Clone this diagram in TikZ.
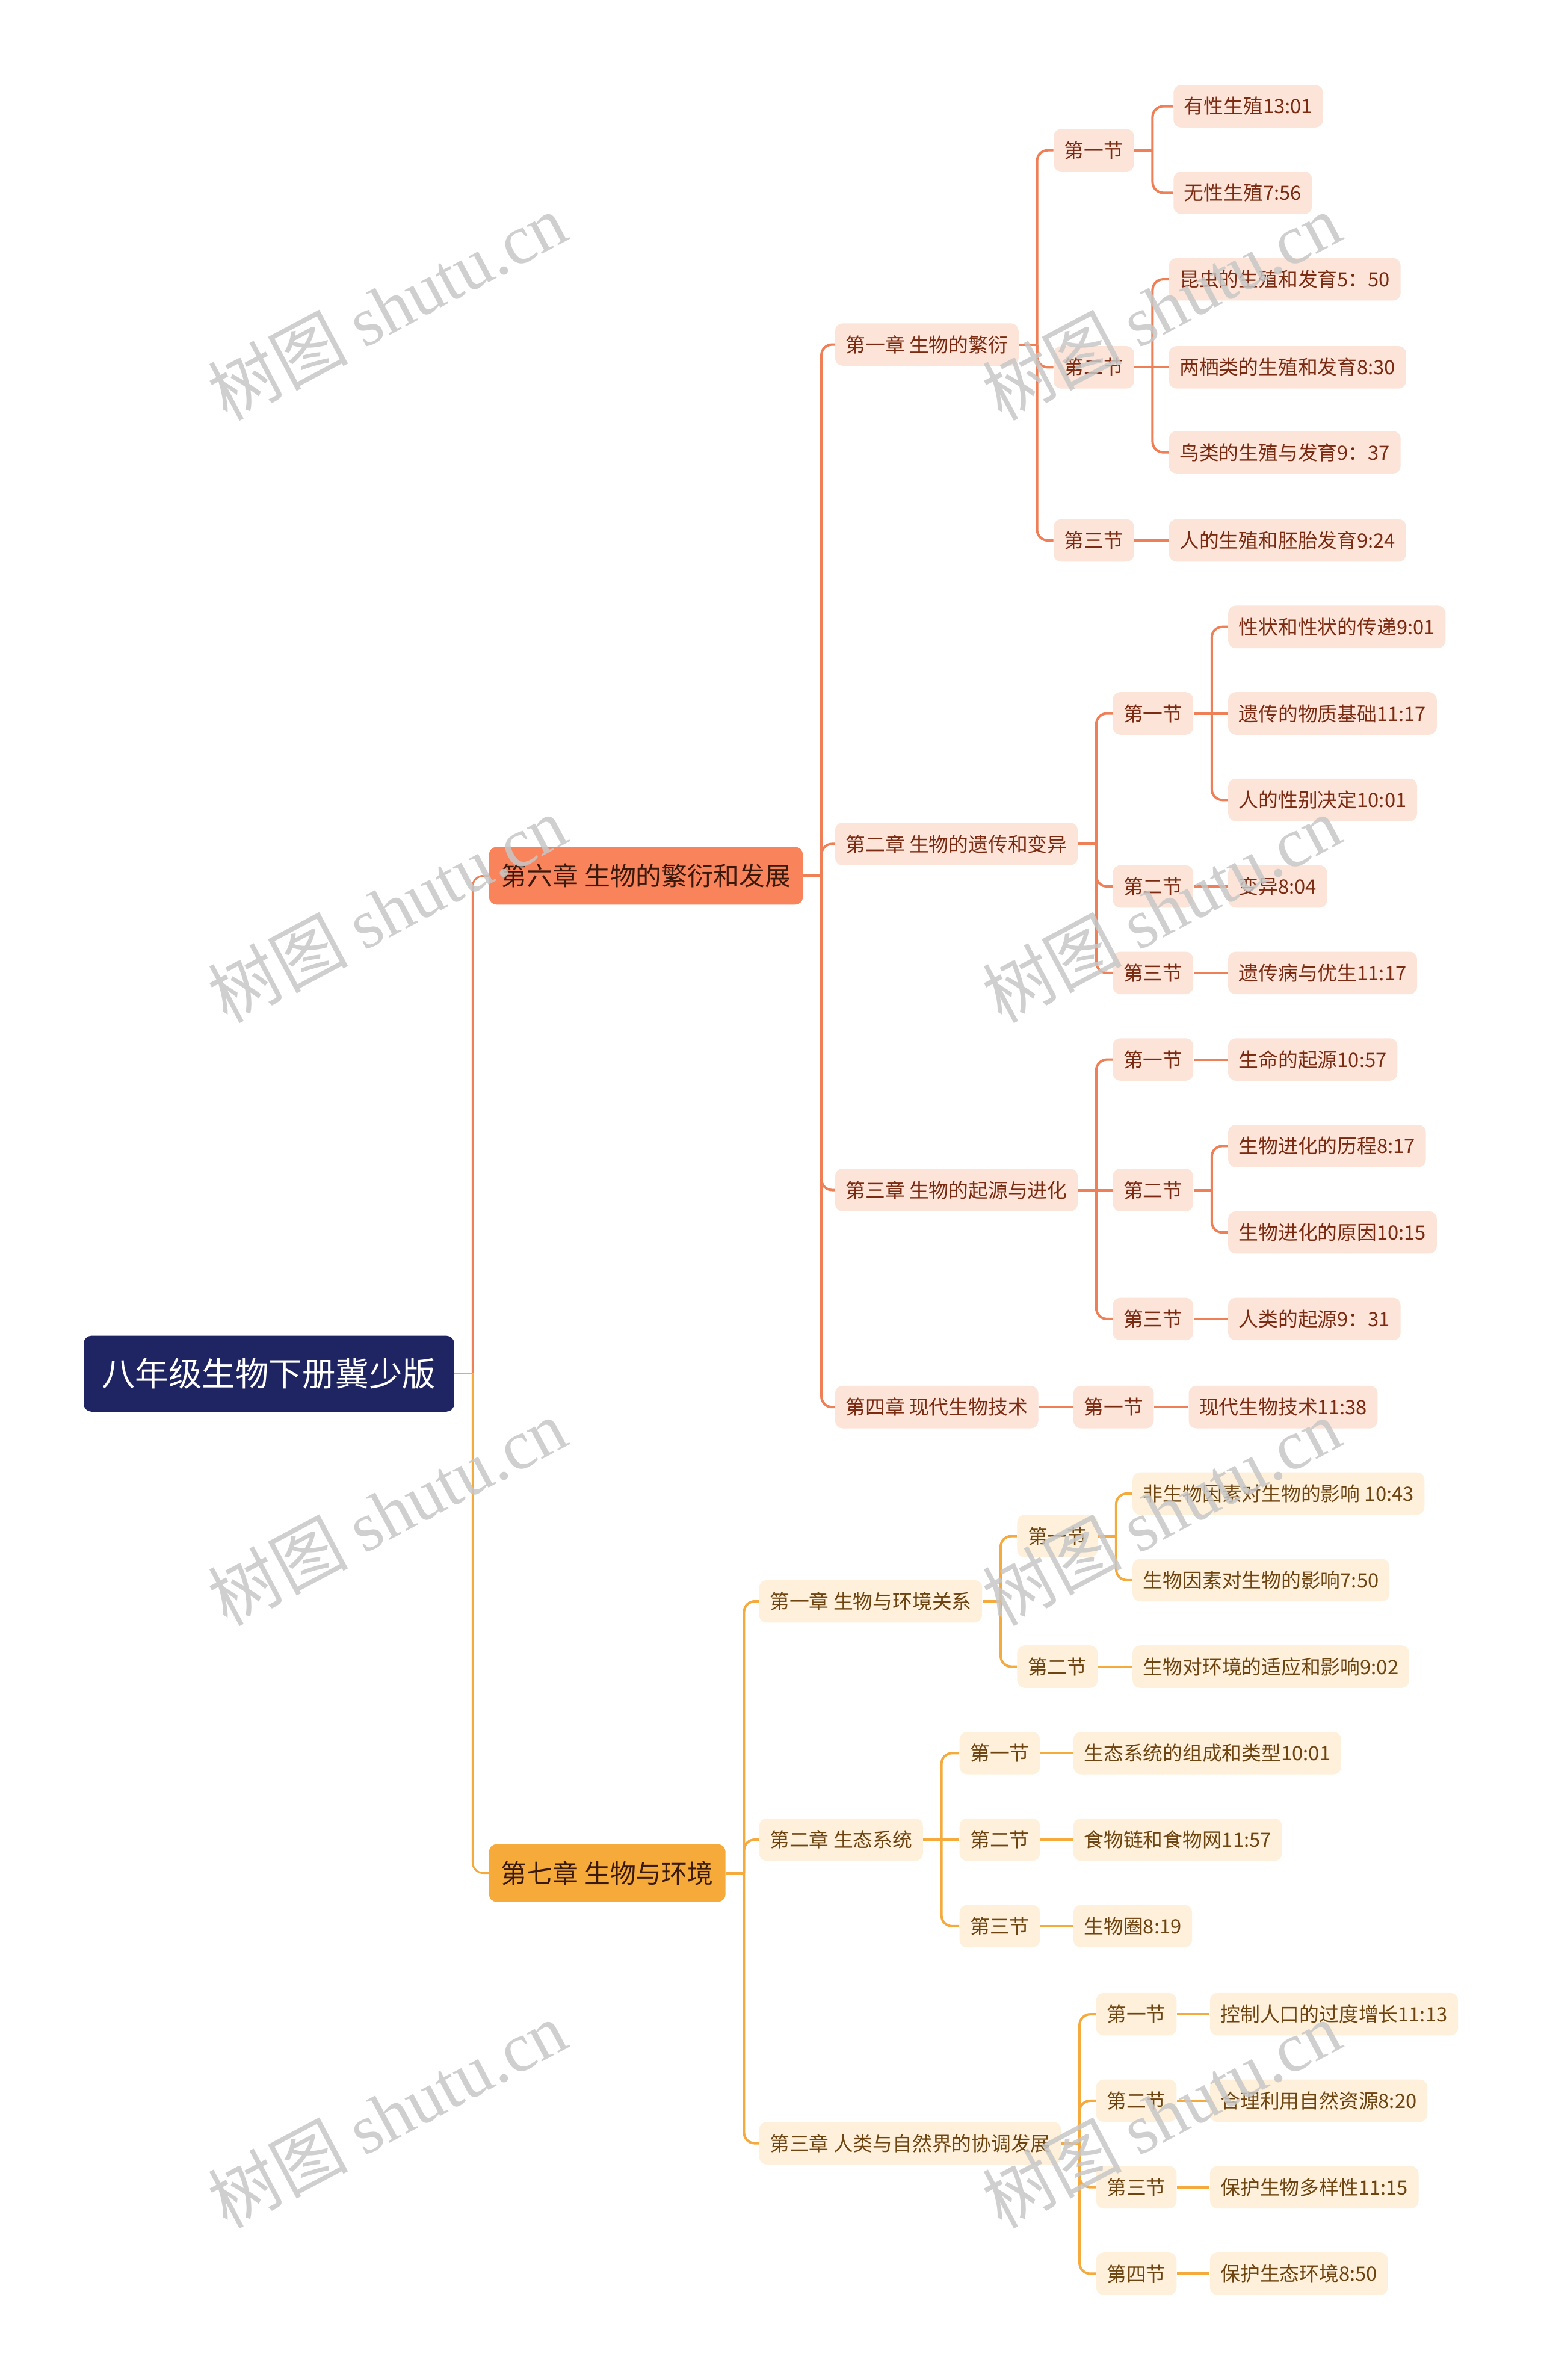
\documentclass[tikz,border=0pt]{standalone}
\usepackage{fontspec}
\setmainfont{Noto Sans CJK SC}
\newfontfamily\wmlat{Liberation Serif}
\definecolor{pline}{HTML}{EE7F56}
\definecolor{pfill}{HTML}{FDE4D9}
\definecolor{ptext}{HTML}{7B2B11}
\definecolor{pmain}{HTML}{F9835B}
\definecolor{yline}{HTML}{F4AA3D}
\definecolor{yfill}{HTML}{FEF0DA}
\definecolor{ytext}{HTML}{6E4410}
\definecolor{ymain}{HTML}{F6AA3A}
\definecolor{rootc}{HTML}{1F2462}
\definecolor{maintext}{HTML}{3A1A0C}
% stub from a parent to its trunk
\newcommand\mstub[2]{\draw[#1] (#2.east) -- ++(12,0) coordinate (#2-t);}
% bent branches from the trunk to children above or below the parent
\newcommand\mbend[3]{\foreach \c in {#3} {\draw[#1] (#2-t) |- (\c.west);}}
% straight branch to a child level with the parent
\newcommand\mflat[3]{\draw[#1] (#2-t) -- (#3.west);}
\begin{document}
\begin{tikzpicture}[x=1pt,y=-1pt,
  box/.style={anchor=west, rounded corners=5pt, inner xsep=7pt, inner ysep=0pt,
    minimum height=28pt, font=\fontsize{13}{15}\selectfont},
  pbox/.style={box, fill=pfill, text=ptext},
  ybox/.style={box, fill=yfill, text=ytext},
  mainbox/.style={anchor=west, rounded corners=5pt, inner xsep=8pt, inner ysep=0pt,
    minimum height=38pt, font=\fontsize{17}{20}\selectfont, text=maintext},
  rootbox/.style={anchor=west, rounded corners=5pt, inner xsep=12pt, inner ysep=0pt,
    minimum height=50pt, font=\fontsize{22}{26}\selectfont, text=white, fill=rootc},
  pln/.style={draw=pline, line width=1.6pt, rounded corners=7pt},
  yln/.style={draw=yline, line width=1.6pt, rounded corners=7pt},
  wm/.style={rotate=28, text=black!22, opacity=0.85, font=\fontsize{46}{50}\selectfont, inner sep=0pt}
]
\useasboundingbox (0,0) rectangle (1015,1568);
\fill[white] (0,0) rectangle (1015,1568);

% root and main
\node[rootbox] (root) at (55,905) {八年级生物下册冀少版};
\node[mainbox, fill=pmain] (m1) at (322,577) {第六章 生物的繁衍和发展};
\node[mainbox, fill=ymain] (m2) at (322,1234) {第七章 生物与环境};

% chapter level, pink
\node[pbox] (c1) at (550,227) {第一章 生物的繁衍};
\node[pbox] (c2) at (550,556) {第二章 生物的遗传和变异};
\node[pbox] (c3) at (550,784) {第三章 生物的起源与进化};
\node[pbox] (c4) at (550,927) {第四章 现代生物技术};

\node[pbox] (c1s1) at (694,99) {第一节};
\node[pbox] (c1s2) at (694,242) {第二节};
\node[pbox] (c1s3) at (694,356) {第三节};
\node[pbox] (c1s1a) at (773,70) {有性生殖13:01};
\node[pbox] (c1s1b) at (773,127) {无性生殖7:56};
\node[pbox] (c1s2a) at (770,184) {昆虫的生殖和发育5：50};
\node[pbox] (c1s2b) at (770,242) {两栖类的生殖和发育8:30};
\node[pbox] (c1s2c) at (770,298) {鸟类的生殖与发育9：37};
\node[pbox] (c1s3a) at (770,356) {人的生殖和胚胎发育9:24};

\node[pbox] (c2s1) at (733,470) {第一节};
\node[pbox] (c2s2) at (733,584) {第二节};
\node[pbox] (c2s3) at (733,641) {第三节};
\node[pbox] (c2s1a) at (809,413) {性状和性状的传递9:01};
\node[pbox] (c2s1b) at (809,470) {遗传的物质基础11:17};
\node[pbox] (c2s1c) at (809,527) {人的性别决定10:01};
\node[pbox] (c2s2a) at (809,584) {变异8:04};
\node[pbox] (c2s3a) at (809,641) {遗传病与优生11:17};

\node[pbox] (c3s1) at (733,698) {第一节};
\node[pbox] (c3s2) at (733,784) {第二节};
\node[pbox] (c3s3) at (733,869) {第三节};
\node[pbox] (c3s1a) at (809,698) {生命的起源10:57};
\node[pbox] (c3s2a) at (809,755) {生物进化的历程8:17};
\node[pbox] (c3s2b) at (809,812) {生物进化的原因10:15};
\node[pbox] (c3s3a) at (809,869) {人类的起源9：31};

\node[pbox] (c4s1) at (707,927) {第一节};
\node[pbox] (c4s1a) at (783,927) {现代生物技术11:38};

% chapter level, yellow
\node[ybox] (d1) at (500,1055) {第一章 生物与环境关系};
\node[ybox] (d2) at (500,1212) {第二章 生态系统};
\node[ybox] (d3) at (500,1412) {第三章 人类与自然界的协调发展};

\node[ybox] (d1s1) at (670,1012) {第一节};
\node[ybox] (d1s2) at (670,1098) {第二节};
\node[ybox] (d1s1a) at (746,984) {非生物因素对生物的影响 10:43};
\node[ybox] (d1s1b) at (746,1041) {生物因素对生物的影响7:50};
\node[ybox] (d1s2a) at (746,1098) {生物对环境的适应和影响9:02};

\node[ybox] (d2s1) at (632,1155) {第一节};
\node[ybox] (d2s2) at (632,1212) {第二节};
\node[ybox] (d2s3) at (632,1269) {第三节};
\node[ybox] (d2s1a) at (707,1155) {生态系统的组成和类型10:01};
\node[ybox] (d2s2a) at (707,1212) {食物链和食物网11:57};
\node[ybox] (d2s3a) at (707,1269) {生物圈8:19};

\node[ybox] (d3s1) at (722,1327) {第一节};
\node[ybox] (d3s2) at (722,1384) {第二节};
\node[ybox] (d3s3) at (722,1441) {第三节};
\node[ybox] (d3s4) at (722,1498) {第四节};
\node[ybox] (d3s1a) at (797,1327) {控制人口的过度增长11:13};
\node[ybox] (d3s2a) at (797,1384) {合理利用自然资源8:20};
\node[ybox] (d3s3a) at (797,1441) {保护生物多样性11:15};
\node[ybox] (d3s4a) at (797,1498) {保护生态环境8:50};

% connectors
\draw[yln, line width=1.2pt] (root.east) -- ++(12,0) coordinate (root-t);
\draw[pln, line width=1.2pt] (root-t) |- (m1.west);
\draw[yln, line width=1.2pt] (root-t) |- (m2.west);

\mstub{pln}{m1}   \mbend{pln}{m1}{c1,c2,c3,c4}
\mstub{pln}{c1}   \mbend{pln}{c1}{c1s1,c1s2,c1s3}
\mstub{pln}{c1s1} \mbend{pln}{c1s1}{c1s1a,c1s1b}
\mstub{pln}{c1s2} \mbend{pln}{c1s2}{c1s2a,c1s2c} \mflat{pln}{c1s2}{c1s2b}
\mstub{pln}{c1s3} \mflat{pln}{c1s3}{c1s3a}
\mstub{pln}{c2}   \mbend{pln}{c2}{c2s1,c2s2,c2s3}
\mstub{pln}{c2s1} \mbend{pln}{c2s1}{c2s1a,c2s1c} \mflat{pln}{c2s1}{c2s1b}
\mstub{pln}{c2s2} \mflat{pln}{c2s2}{c2s2a}
\mstub{pln}{c2s3} \mflat{pln}{c2s3}{c2s3a}
\mstub{pln}{c3}   \mbend{pln}{c3}{c3s1,c3s3} \mflat{pln}{c3}{c3s2}
\mstub{pln}{c3s1} \mflat{pln}{c3s1}{c3s1a}
\mstub{pln}{c3s2} \mbend{pln}{c3s2}{c3s2a,c3s2b}
\mstub{pln}{c3s3} \mflat{pln}{c3s3}{c3s3a}
\mstub{pln}{c4}   \mflat{pln}{c4}{c4s1}
\mstub{pln}{c4s1} \mflat{pln}{c4s1}{c4s1a}

\mstub{yln}{m2}   \mbend{yln}{m2}{d1,d2,d3}
\mstub{yln}{d1}   \mbend{yln}{d1}{d1s1,d1s2}
\mstub{yln}{d1s1} \mbend{yln}{d1s1}{d1s1a,d1s1b}
\mstub{yln}{d1s2} \mflat{yln}{d1s2}{d1s2a}
\mstub{yln}{d2}   \mbend{yln}{d2}{d2s1,d2s3} \mflat{yln}{d2}{d2s2}
\mstub{yln}{d2s1} \mflat{yln}{d2s1}{d2s1a}
\mstub{yln}{d2s2} \mflat{yln}{d2s2}{d2s2a}
\mstub{yln}{d2s3} \mflat{yln}{d2s3}{d2s3a}
\mstub{yln}{d3}   \mbend{yln}{d3}{d3s1,d3s2,d3s3,d3s4}
\mstub{yln}{d3s1} \mflat{yln}{d3s1}{d3s1a}
\mstub{yln}{d3s2} \mflat{yln}{d3s2}{d3s2a}
\mstub{yln}{d3s3} \mflat{yln}{d3s3}{d3s3a}
\mstub{yln}{d3s4} \mflat{yln}{d3s4}{d3s4a}

% watermarks
\node[wm] (w1) at (255,202) {树图 {\wmlat shutu.cn}};
\node[wm] (w2) at (255,599) {树图 {\wmlat shutu.cn}};
\node[wm] (w3) at (255,996) {树图 {\wmlat shutu.cn}};
\node[wm] (w4) at (255,1393) {树图 {\wmlat shutu.cn}};
\node[wm] (w5) at (765,202) {树图 {\wmlat shutu.cn}};
\node[wm] (w6) at (765,599) {树图 {\wmlat shutu.cn}};
\node[wm] (w7) at (765,996) {树图 {\wmlat shutu.cn}};
\node[wm] (w8) at (765,1393) {树图 {\wmlat shutu.cn}};
\end{tikzpicture}
\end{document}
